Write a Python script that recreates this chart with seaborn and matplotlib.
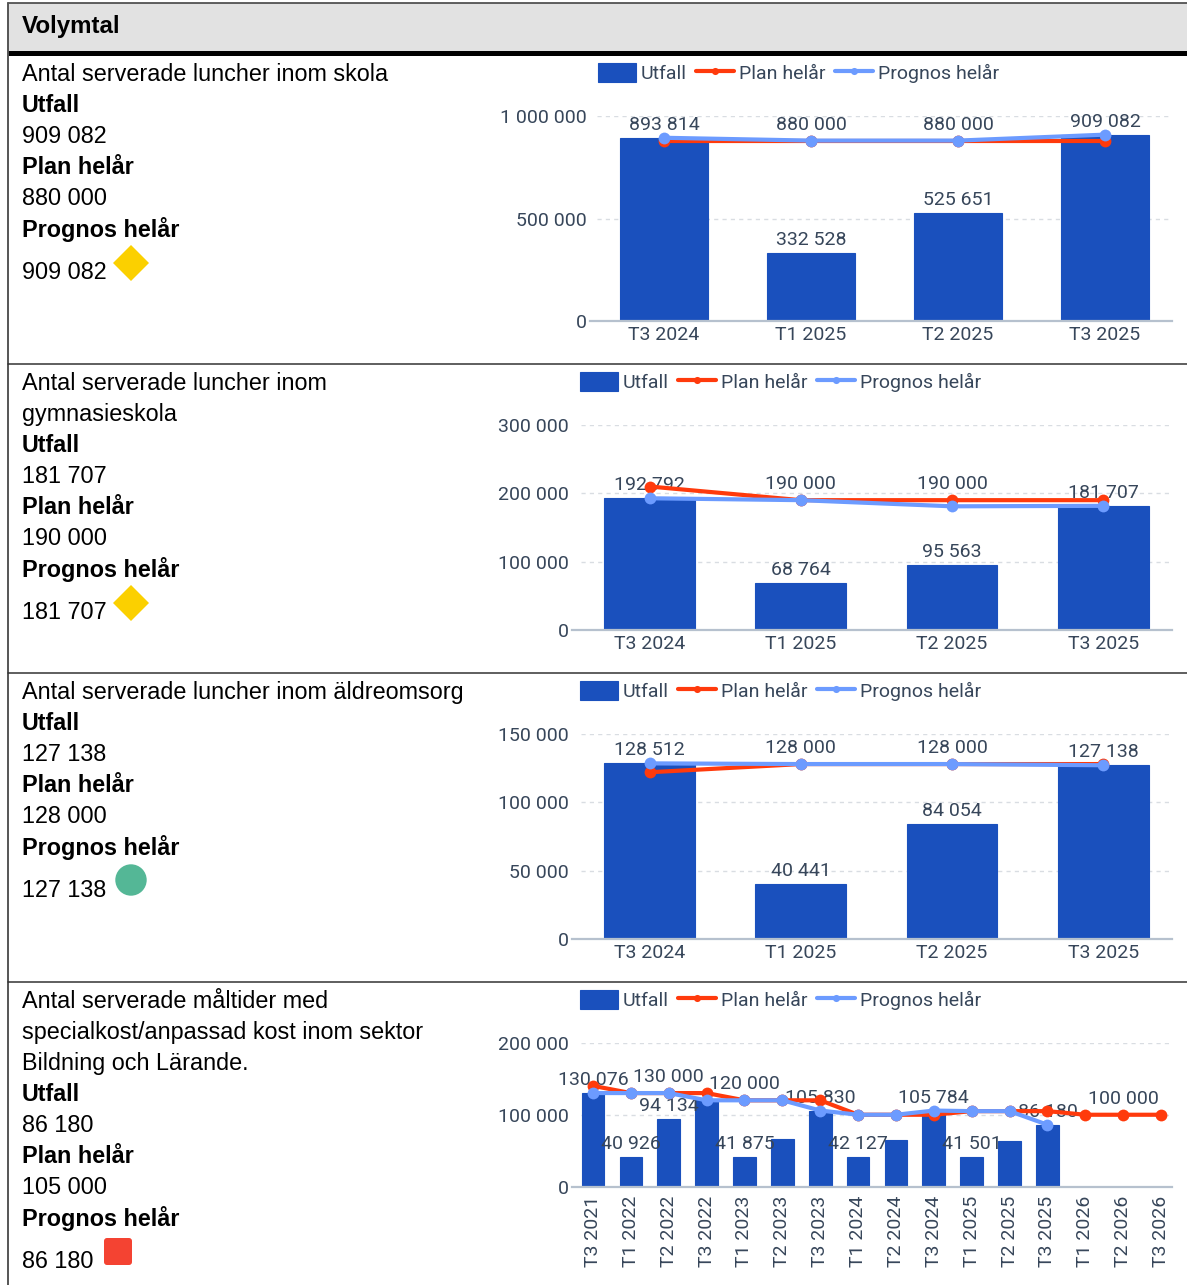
import numpy as np
import matplotlib
matplotlib.use("Agg")
import matplotlib.pyplot as plt
from matplotlib.patches import Rectangle, Polygon, Circle, FancyBboxPatch
from matplotlib.ticker import FuncFormatter
import seaborn as sns

W, H = 1187, 1285
BAR, RED, BLUE = "#1a50bd", "#ff3a0c", "#6c9bff"
INK, GRID, AXIS = "#37465a", "#d9dde2", "#b6c1ce"
FS = 14

# ---- data ----
cats_short = ["T3 2024", "T1 2025", "T2 2025", "T3 2025"]
cats_long = ["T3 2021", "T1 2022", "T2 2022", "T3 2022", "T1 2023", "T2 2023", "T3 2023", "T1 2024",
             "T2 2024", "T3 2024", "T1 2025", "T2 2025", "T3 2025", "T1 2026", "T2 2026", "T3 2026"]

utfall_1 = [893814, 332528, 525651, 909082]
plan_1 = [880000, 880000, 880000, 880000]
prognos_1 = [893814, 880000, 880000, 909082]
yticks_1 = [0, 500000, 1000000]

utfall_2 = [192792, 68764, 95563, 181707]
plan_2 = [210000, 190000, 190000, 190000]
prognos_2 = [192792, 190000, 181000, 181707]
yticks_2 = [0, 100000, 200000, 300000]

utfall_3 = [128512, 40441, 84054, 127138]
plan_3 = [122000, 128000, 128000, 128000]
prognos_3 = [128512, 128000, 128000, 127138]
yticks_3 = [0, 50000, 100000, 150000]

nan = float("nan")
utfall_4 = [130076, 40926, 94134, 120000, 41875, 66700, 105830, 42127, 65300, 105784, 41501, 63400, 86180, nan, nan, nan]
plan_4 = [140000, 130000, 130000, 130000, 120000, 120000, 120000, 100000, 100000, 100000, 105000, 105000, 105000, 100000, 100000, 100000]
prognos_4 = [130076, 130000, 130000, 120000, 120000, 120000, 105830, 100000, 100000, 105784, 105000, 105000, 86180, nan, nan, nan]
yticks_4 = [0, 100000, 200000]

bar_labels_short = [0, 1, 2, 3]
bar_labels_4 = [0, 1, 2, 4, 6, 7, 9, 10, 12]
plan_labels_short = [1, 2]
plan_labels_4 = [2, 4, 14]

text_1 = [("Antal serverade luncher inom skola", 0), ("Utfall", 1), ("909 082", 0), ("Plan helår", 1), ("880 000", 0), ("Prognos helår", 1)]
text_2 = [("Antal serverade luncher inom", 0), ("gymnasieskola", 0), ("Utfall", 1), ("181 707", 0), ("Plan helår", 1), ("190 000", 0), ("Prognos helår", 1)]
text_3 = [("Antal serverade luncher inom äldreomsorg", 0), ("Utfall", 1), ("127 138", 0), ("Plan helår", 1), ("128 000", 0), ("Prognos helår", 1)]
text_4 = [("Antal serverade måltider med", 0), ("specialkost/anpassad kost inom sektor", 0), ("Bildning och Lärande.", 0), ("Utfall", 1), ("86 180", 0), ("Plan helår", 1), ("105 000", 0), ("Prognos helår", 1)]

sns.set_theme(style="white")
plt.rcParams["font.family"] = ["Roboto", "DejaVu Sans"]
fig = plt.figure(figsize=(W / 100, H / 100), dpi=100, facecolor="white")

# ---- table background, in pixel coordinates ----
bg = fig.add_axes([0, 0, 1, 1], zorder=-1)
bg.set_xlim(0, W)
bg.set_ylim(H, 0)
bg.axis("off")
bg.add_patch(Rectangle((8, 3), W - 8, 49, fc="#e2e2e2", ec="none"))
bg.add_patch(Rectangle((8, 51), W - 8, 5, fc="black", ec="none"))
bg.plot([8, W], [3, 3], color="#444444", lw=1.2)
bg.plot([8, 8], [3, H], color="#555555", lw=1.4)
for yy in (364, 673, 982):
    bg.plot([8, W], [yy, yy], color="#333333", lw=1.1)
LEFT = dict(family=["Liberation Sans", "DejaVu Sans"], color="black", fontsize=16.8, va="center", ha="left")
bg.text(22, 27, "Volymtal", **{**LEFT, "fontweight": "bold", "fontsize": 17.4})


def left_text(lines, y0, value, value_y):
    for i, (s, bold) in enumerate(lines):
        bg.text(22, y0 + 1.5 + 31 * i, s, fontweight="bold" if bold else "normal", **LEFT)
    bg.text(22, value_y + 1.5, value, **LEFT)


left_text(text_1, 73, "909 082", 271)
left_text(text_2, 382, "181 707", 611)
left_text(text_3, 691, "127 138", 889)
left_text(text_4, 1000, "86 180", 1260)

for cy in (263, 603):
    bg.add_patch(Polygon([(131 - 18, cy), (131, cy - 18), (131 + 18, cy), (131, cy + 18)], fc="#fbd000", ec="none"))
bg.add_patch(Circle((131, 880), 15.7, fc="#54b796", ec="none"))
bg.add_patch(FancyBboxPatch((107, 1241), 22, 21, boxstyle="round,pad=3,rounding_size=3", fc="#f44332", ec="none"))


def chart(cats, utfall, plan, prognos, yticks, left, base_left, right, top, bottom, c0, step,
          legend_xy, bar_idx, plan_idx, rotate=False):
    ax = fig.add_axes([left / W, 1 - bottom / H, (right - left) / W, (bottom - top) / H])
    ax.patch.set_alpha(0)
    pos = np.arange(len(cats))
    sns.barplot(x=cats, y=utfall, color=BAR, saturation=1, width=0.6, errorbar=None, ax=ax, label="Utfall",
                zorder=2, edgecolor=BAR, linewidth=0.8)
    sns.lineplot(x=pos, y=plan, color=RED, lw=3, marker="o", ms=8.5, mew=0, ax=ax, label="Plan helår",
                 errorbar=None, zorder=4, clip_on=False, legend=False)
    sns.lineplot(x=pos, y=prognos, color=BLUE, lw=3, marker="o", ms=8.5, mew=0, ax=ax, label="Prognos helår",
                 errorbar=None, zorder=5, clip_on=False, legend=False)
    xlo, xhi = (left - c0) / step, (right - c0) / step
    ax.set_xlim(xlo, xhi)
    ax.set_ylim(0, yticks[-1])
    ax.set_yticks(yticks)
    ax.yaxis.set_major_formatter(FuncFormatter(lambda v, _: f"{int(v):,}".replace(",", " ")))
    ax.set_xticks(pos, cats, rotation=90 if rotate else 0)
    ax.set_xlabel("")
    ax.set_ylabel("")
    ax.grid(axis="y", color=GRID, ls=(0, (3, 3)), lw=1)
    ax.grid(axis="x", visible=False)
    ax.set_axisbelow(True)
    for s in ("top", "left", "right"):
        ax.spines[s].set_visible(False)
    sp = ax.spines["bottom"]
    sp.set_color(AXIS)
    sp.set_linewidth(1.6)
    sp.set_bounds((base_left - c0) / step, xhi)
    ax.tick_params(axis="y", length=0, pad=(left - base_left + 3) * 0.72, labelsize=FS, labelcolor=INK)
    ax.tick_params(axis="x", length=0, pad=6.2 if rotate else 3.7, labelsize=FS, labelcolor=INK)

    kw = dict(textcoords="offset points", ha="center", va="center", fontsize=FS, color=INK, zorder=3,
              annotation_clip=False)
    for i in bar_idx:
        ax.annotate(f"{utfall[i]:,}".replace(",", " "), (pos[i], utfall[i]), xytext=(0, 13 * 0.72), **kw)
    for i in plan_idx:
        ax.annotate(f"{plan[i]:,}".replace(",", " "), (pos[i], plan[i]), xytext=(0, 16 * 0.72), **kw)

    handles, labels = ax.get_legend_handles_labels()
    order = [labels.index(n) for n in ("Utfall", "Plan helår", "Prognos helår")]
    ax.legend([handles[i] for i in order], [labels[i] for i in order], ncol=3, loc="upper left",
              bbox_to_anchor=(legend_xy[0] / W, 1 - legend_xy[1] / H), bbox_transform=fig.transFigure,
              frameon=False, fontsize=FS, borderpad=0, borderaxespad=0, handlelength=1.95,
              handleheight=1.12, handletextpad=0.24, columnspacing=0.5, markerscale=0.6,
              labelcolor=INK)
    return ax


chart(cats_short, utfall_1, plan_1, prognos_1, yticks_1, 597, 590, 1172, 116, 321, 664, 147,
      (598, 63), bar_labels_short, plan_labels_short)
chart(cats_short, utfall_2, plan_2, prognos_2, yticks_2, 581, 572, 1172, 425, 630, 649.5, 151.3,
      (580, 372), bar_labels_short, plan_labels_short)
chart(cats_short, utfall_3, plan_3, prognos_3, yticks_3, 581, 572, 1172, 734, 939, 649.5, 151.3,
      (580, 681), bar_labels_short, plan_labels_short)
chart(cats_long, utfall_4, plan_4, prognos_4, yticks_4, 581, 572, 1172, 1042.5, 1187, 593, 37.87,
      (580, 990), bar_labels_4, plan_labels_4, rotate=True)

fig.savefig("out.png", dpi=100)
